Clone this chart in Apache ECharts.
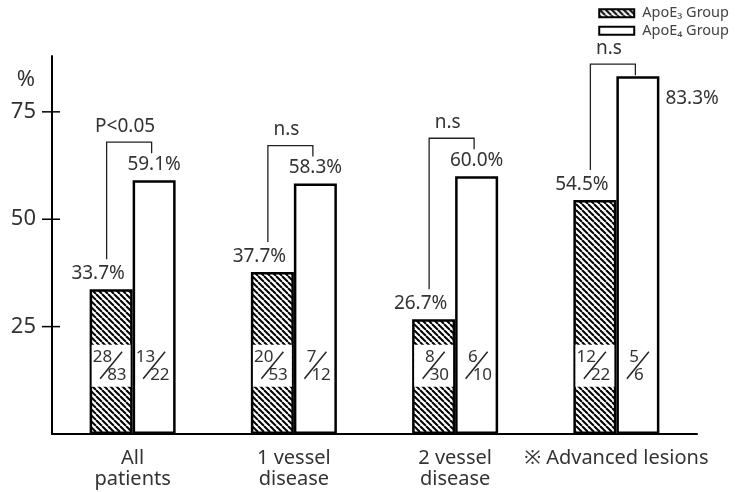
<!DOCTYPE html>
<html>
<head>
<meta charset="utf-8">
<script src="https://cdn.jsdelivr.net/npm/echarts@6/dist/echarts.min.js"></script>
<style>
  html, body { margin: 0; padding: 0; background: #fff; }
  #chart { width: 738px; height: 492px; }
</style>
</head>
<body>
<div id="chart"></div>
<script>
// Groups and percentages
const categories = ['All\npatients', '1 vessel\ndisease', '2 vessel\ndisease', '※ Advanced lesions'];
const e3Values = [33.7, 37.7, 26.7, 54.5];
const e4Values = [59.1, 58.3, 60.0, 83.3];
// Patient counts behind each percentage
const e3Num = [28, 20, 8, 12];
const e3Den = [83, 53, 30, 22];
const e4Num = [13, 7, 6, 5];
const e4Den = [22, 12, 10, 6];
// Significance of the E3 / E4 comparison
const significance = ['P<0.05', 'n.s', 'n.s', 'n.s'];
const yTicks = [25, 50, 75];

const FONT = '"Noto Sans", "Noto Sans CJK JP", sans-serif';
const INK = '#333';
const BAR_W = 43;
const FRAC_LEVEL = 15.9;
const Y_MAX = 88;
const TICK_STEP = 25;

function hatchCanvas() {
  const s = 6;
  const cv = document.createElement('canvas');
  cv.width = s; cv.height = s;
  const g = cv.getContext('2d');
  g.fillStyle = '#fff';
  g.fillRect(0, 0, s, s);
  g.strokeStyle = '#000';
  g.lineWidth = 2;
  for (const k of [-s, 0, s]) {
    g.beginPath();
    g.moveTo(k, 0);
    g.lineTo(k + s, s);
    g.stroke();
  }
  return cv;
}
const hatch = { image: hatchCanvas(), repeat: 'repeat' };

const pctLabel = p => p.value.toFixed(1) + '%';
const e4Max = Math.max(...e4Values);

const e4Data = e4Values.map(v => {
  const item = { value: v };
  // the tallest bar carries its label on the right side
  if (v === e4Max) {
    item.label = { position: [BAR_W + 6, 22], align: 'left', verticalAlign: 'middle' };
  }
  return item;
});

function renderNotes(params, api) {
  const i = api.value(0);
  const cx = api.coord([i, 0])[0];
  const yFrac = api.coord([i, FRAC_LEVEL])[1];
  const yE3 = api.coord([i, e3Values[i]])[1];
  const yE4 = api.coord([i, e4Values[i]])[1];
  const children = [];
  const txt = { font: '17px ' + FONT, fill: INK };

  // clear window inside the hatched bar for the counts
  children.push({
    type: 'rect',
    shape: { x: cx - BAR_W + 2, y: yFrac - 21, width: BAR_W - 4, height: 42 },
    style: { fill: '#fff' }
  });

  function fraction(bx, n, d) {
    children.push({
      type: 'text',
      style: Object.assign({ text: String(n), x: bx + 1, y: yFrac - 8.5, align: 'right', verticalAlign: 'middle' }, txt)
    });
    children.push({
      type: 'text',
      style: Object.assign({ text: String(d), x: bx - 4, y: yFrac + 9, align: 'left', verticalAlign: 'middle' }, txt)
    });
    children.push({
      type: 'line',
      shape: { x1: bx - 11, y1: yFrac + 13, x2: bx + 11, y2: yFrac - 14 },
      style: { stroke: '#222', lineWidth: 1.5 }
    });
  }
  fraction(cx - BAR_W / 2, e3Num[i], e3Den[i]);
  fraction(cx + BAR_W / 2, e4Num[i], e4Den[i]);

  // comparison bracket
  const labelOnTop = e4Values[i] !== e4Max;
  const topY = yE4 - (labelOnTop ? 38 : 12);
  const lx = cx - 26, rx = cx + 19;
  children.push({
    type: 'polyline',
    shape: { points: [[lx, yE3 - 30], [lx, topY], [rx, topY], [rx, topY + 11]] },
    style: { stroke: '#222', lineWidth: 1.3, fill: null }
  });
  children.push({
    type: 'text',
    style: { text: significance[i], x: (lx + rx) / 2 - 4, y: topY - 16, align: 'center', verticalAlign: 'middle',
             font: '19px ' + FONT, fill: INK }
  });
  return { type: 'group', children };
}

// tick marks that cross the y axis line at each labelled value
function renderTick(params, api) {
  const y = api.coord([0, api.value(1)])[1];
  const axisX = params.coordSys.x;
  return {
    type: 'line',
    shape: { x1: axisX - 10, y1: y, x2: axisX + 8, y2: y },
    style: { stroke: '#000', lineWidth: 1.5 }
  };
}

const chart = echarts.init(document.getElementById('chart'), null, { renderer: 'canvas' });
chart.setOption({
  animation: false,
  backgroundColor: '#fff',
  textStyle: { fontFamily: FONT },
  grid: { left: 52, right: 41, top: 56, bottom: 58, containLabel: false },
  legend: {
    data: ['ApoE₃ Group', 'ApoE₄ Group'],
    orient: 'vertical',
    right: 4,
    top: 1,
    itemWidth: 35,
    itemHeight: 8,
    itemGap: 3,
    icon: 'rect',
    textStyle: { fontSize: 14.5, color: '#444', fontFamily: FONT, padding: [0, 0, 0, 3] },
    selectedMode: false
  },
  xAxis: {
    type: 'category',
    data: categories,
    axisLine: { lineStyle: { color: '#000', width: 2 } },
    axisTick: { show: false },
    axisLabel: { interval: 0, fontSize: 20, lineHeight: 21, color: INK, margin: 14, fontFamily: FONT }
  },
  yAxis: {
    type: 'value', min: 0, max: Y_MAX, interval: TICK_STEP,
    name: '%', nameLocation: 'end', nameGap: -24,
    nameTextStyle: { fontSize: 22, color: INK, align: 'right', verticalAlign: 'middle', padding: [0, 17, 0, 0], fontFamily: FONT },
    axisLine: { show: true, lineStyle: { color: '#000', width: 2 } },
    axisTick: { show: false },
    axisLabel: {
      fontSize: 22, color: INK, margin: 16, fontFamily: FONT,
      formatter: v => (yTicks.includes(v) ? String(v) : '')
    },
    splitLine: { show: false }
  },
  series: [
    {
      name: 'ApoE₃ Group',
      type: 'bar',
      data: e3Values,
      barWidth: BAR_W,
      barGap: '0%',
      itemStyle: { color: hatch, borderColor: '#000', borderWidth: 2.5 },
      label: { show: true, position: 'top', distance: 6, offset: [-13, 0], fontSize: 19, color: INK, fontFamily: FONT, formatter: pctLabel },
      emphasis: { disabled: true },
      silent: true
    },
    {
      name: 'ApoE₄ Group',
      type: 'bar',
      data: e4Data,
      barWidth: BAR_W,
      barGap: '0%',
      itemStyle: { color: '#fff', borderColor: '#000', borderWidth: 2.5 },
      label: { show: true, position: 'top', distance: 6, fontSize: 19, color: INK, fontFamily: FONT, formatter: pctLabel },
      emphasis: { disabled: true },
      silent: true
    },
    {
      type: 'custom',
      data: categories.map((_, i) => [i]),
      encode: { x: 0 },
      renderItem: renderNotes,
      clip: false,
      z: 5,
      silent: true
    },
    {
      type: 'custom',
      data: yTicks.map(v => [0, v]),
      encode: { x: 0, y: 1 },
      renderItem: renderTick,
      clip: false,
      z: 6,
      silent: true
    }
  ]
});
</script>
</body>
</html>
